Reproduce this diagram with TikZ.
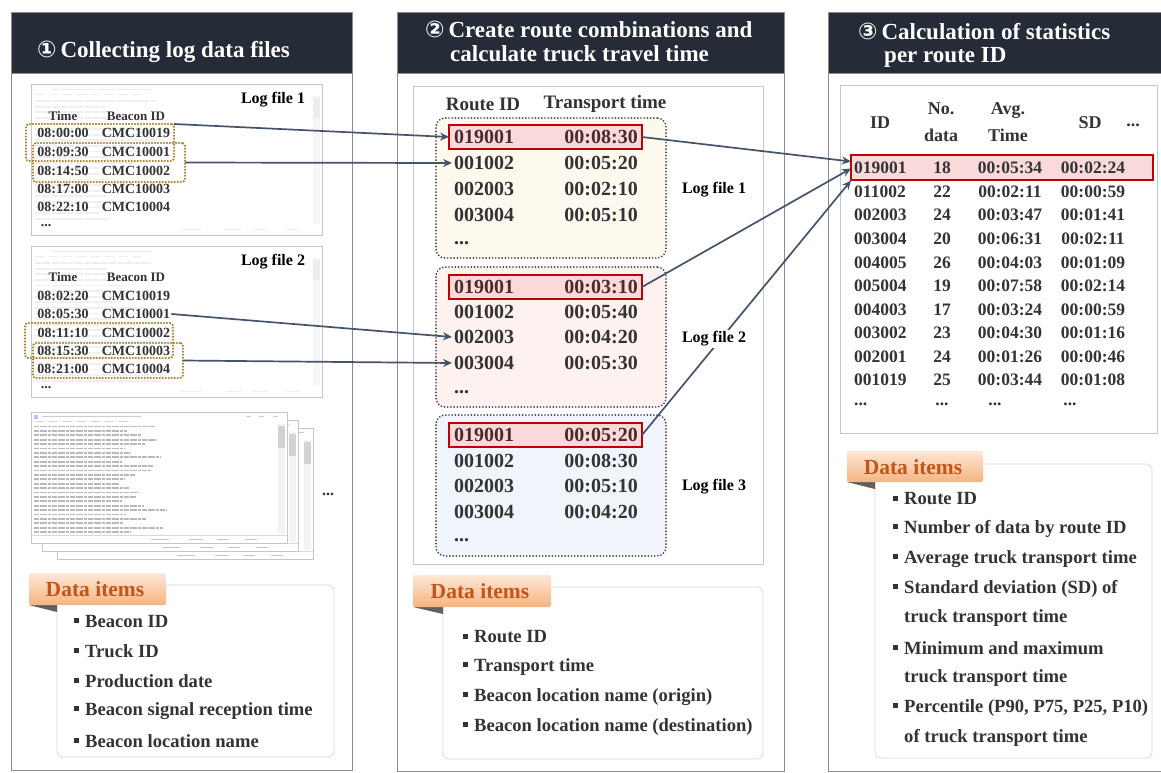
\documentclass[tikz,border=0pt]{standalone}
\usepackage{fontspec}
\setmainfont{Liberation Serif}
\newfontfamily\dejavu{DejaVu Sans}
\usetikzlibrary{arrows.meta,calc}
\definecolor{hdr}{HTML}{252B37}
\definecolor{pborder}{HTML}{8C8C8C}
\definecolor{txt}{HTML}{333333}
\definecolor{redtxt}{HTML}{4A2A2A}
\definecolor{gold}{HTML}{A27B22}
\definecolor{arrc}{HTML}{44546A}
\definecolor{redb}{HTML}{C00000}
\definecolor{redf}{HTML}{F9D9D9}
\definecolor{yel}{HTML}{FEF9EE}
\definecolor{pinkf}{HTML}{FDF2F0}
\definecolor{blu}{HTML}{F1F5FB}
\definecolor{tabt}{HTML}{FDE7D6}
\definecolor{tabb}{HTML}{F5B482}
\definecolor{tabtx}{HTML}{C0561A}
\newcommand\myfs[2]{\fontsize{#1}{#2}\selectfont}
\newcommand\bul{\raisebox{0.22em}{\rule{5pt}{5pt}}\hspace{6pt}}
\tikzset{
  bx/.style={rectangle, inner sep=0pt, outer sep=0pt, anchor=north west},
  panel/.style={draw=pborder, line width=0.8pt, fill=white},
  hdrbox/.style={fill=hdr, draw=pborder, line width=0.8pt},
  title/.style={text=white, font=\myfs{23}{25}\bfseries, inner sep=0pt, anchor=base west},
  win/.style={draw=gray!45, fill=white, line width=0.8pt},
  lflabel/.style={font=\myfs{16}{18}\bfseries, inner sep=2pt},
  tone/.style={font=\myfs{14}{16}\bfseries, text=txt, inner sep=1pt},
  toneh/.style={font=\myfs{13}{15}\bfseries, text=txt, inner sep=1pt},
  gbox/.style={draw=gold, line width=2.3pt, dash pattern=on 0pt off 3pt, line cap=round, rounded corners=3pt},
  kbox/.style={draw=black!75, line width=1.9pt, dash pattern=on 0pt off 3.2pt, line cap=round, rounded corners=9pt},
  redrow/.style={draw=redb, fill=redf, line width=1.5pt},
  ttwo/.style={font=\myfs{20}{22}\bfseries, text=txt, inner sep=2pt},
  ttwoh/.style={font=\myfs{19}{21}\bfseries, text=txt},
  tthree/.style={font=\myfs{17.5}{19}\bfseries, text=txt, inner sep=1pt},
  tthreeh/.style={font=\myfs{18}{27}\bfseries, text=txt, align=center},
  arr/.style={draw=arrc, line width=1.7pt, -{Stealth[length=9pt,width=8pt]}},
  tab/.style={top color=tabt, bottom color=tabb, draw=none, rounded corners=2pt},
  tabtext/.style={font=\myfs{21.5}{23}\bfseries, text=tabtx},
  dbox/.style={draw=gray!30, fill=white, rounded corners=6pt, line width=0.8pt},
  item/.style={font=\myfs{18.6}{20}\bfseries, text=txt, anchor=west, inner sep=0pt},
  fakewin/.pic={
    \draw[win] (0,0) rectangle (256,131);
    \fill[blue!25] (3,2.5) rectangle (7,6.5);
    \draw[gray!40, line width=1pt] (11,4.5) -- (110,4.5);
    \draw[gray!40, line width=1pt] (215,4.5)--(220,4.5) (228,4.5)--(233,4.5) (242,4.5)--(247,4.5);
    \draw[gray!35, line width=1pt, dash pattern=on 9pt off 5pt] (4,9.5) -- (100,9.5);
    \foreach \k in {0,...,24}{
      \pgfmathsetmacro\L{85+50*rnd}
      \draw[gray!55, line width=1.9pt, dash pattern=on 5pt off 1pt on 7pt off 1pt on 3pt off 1pt] (3,14.5+4.4*\k) -- ++(\L,0);
    }
    \fill[gray!10] (247,12) rectangle (254,122);
    \fill[gray!35] (247,14) rectangle (254,36);
    \draw[gray!30] (0,123) -- (256,123);
    \draw[gray!45, line width=1pt] (120,127)--(138,127) (158,127)--(172,127) (186,127)--(198,127) (214,127)--(226,127);
  },
  faintwin/.pic={
    \foreach \k in {0,...,21}{
      \pgfmathsetmacro\L{60+70*rnd}
      \draw[gray!13, line width=1.8pt, dash pattern=on 6pt off 1pt on 8pt off 1.5pt] (4,17+5.6*\k) -- ++(\L,0);
    }
    \draw[gray!15, line width=1pt] (20,5)--(120,5);
    \draw[gray!15, line width=1pt, dash pattern=on 9pt off 5pt] (4,10)--(110,10);
    \fill[gray!7] (282,12) rectangle (289,140);
    \fill[gray!14] (282,14) rectangle (289,34);
    \draw[gray!15, line width=1pt] (150,145)--(170,145) (195,145)--(210,145) (222,145)--(236,145) (255,145)--(268,145);
  }
}
\begin{document}
\begin{tikzpicture}[x=1pt,y=-1pt]
\useasboundingbox[fill=white] (0,0) rectangle (1161,772);
\pgfmathsetseed{7}
% ---------------- panels ----------------
\draw[panel] (11,12) rectangle (352,770);
\draw[hdrbox] (11,12) rectangle (352,73);
\node[title] (ttl1) at (37,57) {{\dejavu ①}\,Collecting log data files};
\draw[panel] (397,12) rectangle (784,771);
\draw[hdrbox] (397,12) rectangle (784,73);
\node[title] (ttl2a) at (425,37) {{\dejavu ②}\,Create route combinations and};
\node[title] (ttl2b) at (450,61) {calculate truck travel time};
\draw[panel] (828,12) rectangle (1170,771);
\draw[hdrbox] (828,12) rectangle (1170,73);
\node[title] (ttl3a) at (858,39) {{\dejavu ③}\,Calculation of statistics};
\node[title] (ttl3b) at (884,62) {per route ID};
% ---------------- panel 1: log file 1 ----------------
\node[bx, win, minimum width=291, minimum height=151] (w1) at (31,84) {};
\pic at (31,84) {faintwin};
\node[lflabel] (lf1) at (273,100) {Log file 1};
\node[toneh] (h1a) at (63,116) {Time};
\node[toneh] (h1b) at (136,116) {Beacon ID};
\node[tone] (t11) at (63,133) {08:00:00};  \node[tone] (c11) at (136,133) {CMC10019};
\node[tone] (t12) at (63,152) {08:09:30};  \node[tone] (c12) at (136,152) {CMC10001};
\node[tone] (t13) at (63,171) {08:14:50};  \node[tone] (c13) at (136,171) {CMC10002};
\node[tone] (t14) at (63,189) {08:17:00};  \node[tone] (c14) at (136,189) {CMC10003};
\node[tone] (t15) at (63,207) {08:22:10};  \node[tone] (c15) at (136,207) {CMC10004};
\node[tone] (d1) at (46,226) {...};
\node[bx, gbox, minimum width=148, minimum height=37] (g1) at (26,124) {};
\node[bx, gbox, minimum width=152, minimum height=39] (g2) at (33,143) {};
% ---------------- panel 1: log file 2 ----------------
\node[bx, win, minimum width=291, minimum height=151] (w2) at (31,246) {};
\pic at (31,246) {faintwin};
\node[lflabel] (lf2) at (273,262) {Log file 2};
\node[toneh] (h2a) at (63,277) {Time};
\node[toneh] (h2b) at (136,277) {Beacon ID};
\node[tone] (t21) at (63,296) {08:02:20};  \node[tone] (c21) at (136,296) {CMC10019};
\node[tone] (t22) at (63,314) {08:05:30};  \node[tone] (c22) at (136,314) {CMC10001};
\node[tone] (t23) at (63,333) {08:11:10};  \node[tone] (c23) at (136,333) {CMC10002};
\node[tone] (t24) at (63,351) {08:15:30};  \node[tone] (c24) at (136,351) {CMC10003};
\node[tone] (t25) at (63,369) {08:21:00};  \node[tone] (c25) at (136,369) {CMC10004};
\node[tone] (d2) at (46,388) {...};
\node[bx, gbox, minimum width=148, minimum height=35] (g3) at (25,323) {};
\node[bx, gbox, minimum width=150, minimum height=35] (g4) at (33,343) {};
% ---------------- panel 1: stacked log windows ----------------
\pic at (57,428) {fakewin};
\pic at (42,420) {fakewin};
\pic at (31,412) {fakewin};
\node[tone, font=\myfs{16}{18}\bfseries] (d3) at (328,494) {...};
% ---------------- panel 1: data items ----------------
\node[bx, dbox, minimum width=277, minimum height=172] (db1) at (57,585) {};
\fill[gray!75!black] (29,605) -- (57,605) -- (57,612) -- cycle;
\node[bx, tab, minimum width=137, minimum height=32] (tb1) at (29,573) {};
\node[tabtext] (tt1) at (95,589) {Data items};
\node[item] (i11) at (74,621) {\bul Beacon ID};
\node[item] (i12) at (74,651) {\bul Truck ID};
\node[item] (i13) at (74,681) {\bul Production date};
\node[item] (i14) at (74,711) {\bul Beacon signal reception time};
\node[item] (i15) at (74,741) {\bul Beacon location name};
% ---------------- panel 2 ----------------
\draw[draw=gray!45, line width=0.8pt] (413,86) rectangle (763,564);
\node[ttwoh] (rh1) at (483,104) {Route ID};
\node[ttwoh] (rh2) at (605,104) {Transport time};
\node[bx, kbox, fill=yel, minimum width=230, minimum height=140] (k1) at (436,118) {};
\node[bx, kbox, fill=pinkf, minimum width=230, minimum height=140] (k2) at (436,267) {};
\node[bx, kbox, fill=blu, minimum width=230, minimum height=141] (k3) at (436,415) {};
\node[bx, redrow, minimum width=193, minimum height=24] (rb1) at (449,125) {};
\node[bx, redrow, minimum width=193, minimum height=24] (rb2) at (449,275) {};
\node[bx, redrow, minimum width=193, minimum height=24] (rb3) at (449,423) {};
% box 1
\node[ttwo, anchor=west, text=redtxt] (r11) at (452,137) {019001}; \node[ttwo, anchor=east, text=redtxt] (s11) at (640,137) {00:08:30};
\node[ttwo, anchor=west] (r12) at (452,163) {001002}; \node[ttwo, anchor=east] (s12) at (640,163) {00:05:20};
\node[ttwo, anchor=west] (r13) at (452,189) {002003}; \node[ttwo, anchor=east] (s13) at (640,189) {00:02:10};
\node[ttwo, anchor=west] (r14) at (452,215) {003004}; \node[ttwo, anchor=east] (s14) at (640,215) {00:05:10};
\node[ttwo, anchor=west] (r15) at (452,243) {...};
% box 2
\node[ttwo, anchor=west, text=redtxt] (r21) at (452,287) {019001}; \node[ttwo, anchor=east, text=redtxt] (s21) at (640,287) {00:03:10};
\node[ttwo, anchor=west] (r22) at (452,312) {001002}; \node[ttwo, anchor=east] (s22) at (640,312) {00:05:40};
\node[ttwo, anchor=west] (r23) at (452,337) {002003}; \node[ttwo, anchor=east] (s23) at (640,337) {00:04:20};
\node[ttwo, anchor=west] (r24) at (452,363) {003004}; \node[ttwo, anchor=east] (s24) at (640,363) {00:05:30};
\node[ttwo, anchor=west] (r25) at (452,392) {...};
% box 3
\node[ttwo, anchor=west, text=redtxt] (r31) at (452,435) {019001}; \node[ttwo, anchor=east, text=redtxt] (s31) at (640,435) {00:05:20};
\node[ttwo, anchor=west] (r32) at (452,461) {001002}; \node[ttwo, anchor=east] (s32) at (640,461) {00:08:30};
\node[ttwo, anchor=west] (r33) at (452,486) {002003}; \node[ttwo, anchor=east] (s33) at (640,486) {00:05:10};
\node[ttwo, anchor=west] (r34) at (452,512) {003004}; \node[ttwo, anchor=east] (s34) at (640,512) {00:04:20};
\node[ttwo, anchor=west] (r35) at (452,540) {...};
% data items 2
\node[bx, dbox, minimum width=320, minimum height=172] (db2) at (443,587) {};
\fill[gray!75!black] (413,607) -- (443,607) -- (443,614) -- cycle;
\node[bx, tab, minimum width=138, minimum height=32] (tb2) at (413,575) {};
\node[tabtext] (tt2) at (480,591) {Data items};
\node[item] (i21) at (463,637) {\bul Route ID};
\node[item] (i22) at (463,667) {\bul Transport time};
\node[item] (i23) at (463,697) {\bul Beacon location name (origin)};
\node[item] (i24) at (463,727) {\bul Beacon location name (destination)};
% ---------------- panel 3 ----------------
\draw[draw=gray!45, line width=0.8pt] (840,85) rectangle (1157,433);
\node[tthreeh] (sh1) at (880,123) {ID};
\node[tthreeh] (sh2) at (941,122) {No.\\data};
\node[tthreeh] (sh3) at (1008,122) {Avg.\\Time};
\node[tthreeh] (sh4) at (1090,123) {SD};
\node[tthreeh] (sh5) at (1133,125) {...};
\node[bx, redrow, minimum width=302, minimum height=25] (srb) at (851,155) {};
\foreach \nm/\id/\no/\av/\sd/\yy in {
  q1/019001/18/00:05:34/00:02:24/168,
  q2/011002/22/00:02:11/00:00:59/192,
  q3/002003/24/00:03:47/00:01:41/215,
  q4/003004/20/00:06:31/00:02:11/239,
  q5/004005/26/00:04:03/00:01:09/263,
  q6/005004/19/00:07:58/00:02:14/286,
  q7/004003/17/00:03:24/00:00:59/310,
  q8/003002/23/00:04:30/00:01:16/333,
  q9/002001/24/00:01:26/00:00:46/357,
  q10/001019/25/00:03:44/00:01:08/380}{
  \node[tthree, anchor=west] (\nm a) at (853,\yy) {\id};
  \node[tthree] (\nm b) at (942,\yy) {\no};
  \node[tthree] (\nm c) at (1010,\yy) {\av};
  \node[tthree] (\nm d) at (1093,\yy) {\sd};
}
\node[tthree, anchor=west] (q11a) at (853,404) {...};
\node[tthree] (q11b) at (942,404) {...};
\node[tthree] (q11c) at (995,404) {...};
\node[tthree] (q11d) at (1070,404) {...};
% data items 3
\node[bx, dbox, minimum width=277, minimum height=294] (db3) at (875,464) {};
\fill[gray!75!black] (847,482) -- (875,482) -- (875,489) -- cycle;
\node[bx, tab, minimum width=136, minimum height=31] (tb3) at (847,451) {};
\node[tabtext] (tt3) at (913,467) {Data items};
\node[item] (i31) at (893,499) {\bul Route ID};
\node[item] (i32) at (893,529) {\bul Number of data by route ID};
\node[item] (i33) at (893,559) {\bul Average truck transport time};
\node[item] (i34) at (893,589) {\bul Standard deviation (SD) of};
\node[item] (i35) at (904,618) {truck transport time};
\node[item] (i36) at (893,648) {\bul Minimum and maximum};
\node[item] (i37) at (904,678) {truck transport time};
\node[item] (i38) at (893,708) {\bul Percentile (P90, P75, P25, P10)};
\node[item] (i39) at (904,738) {of truck transport time};
% ---------------- connectors ----------------
\draw[arr] (g1.north east) -- (rb1.west);
\draw[arr] (g2.east) -- (r12.west);
\draw[arr] (c22.east) -- (r23.west);
\draw[arr] (g4.east) -- (r24.west);
\draw[arr] (rb1.east) -- ([yshift=6pt]srb.west);
\draw[arr] (rb2.east) -- ([yshift=-1pt]srb.west);
\draw[arr] (rb3.east) -- ([yshift=-13pt]srb.west);
% log file labels of panel 2 (on top of connectors)
\node[lflabel, fill=white] (m1) at (714,190) {Log file 1};
\node[lflabel, fill=white] (m2) at (714,339) {Log file 2};
\node[lflabel, fill=white] (m3) at (714,487) {Log file 3};
\end{tikzpicture}
\end{document}
